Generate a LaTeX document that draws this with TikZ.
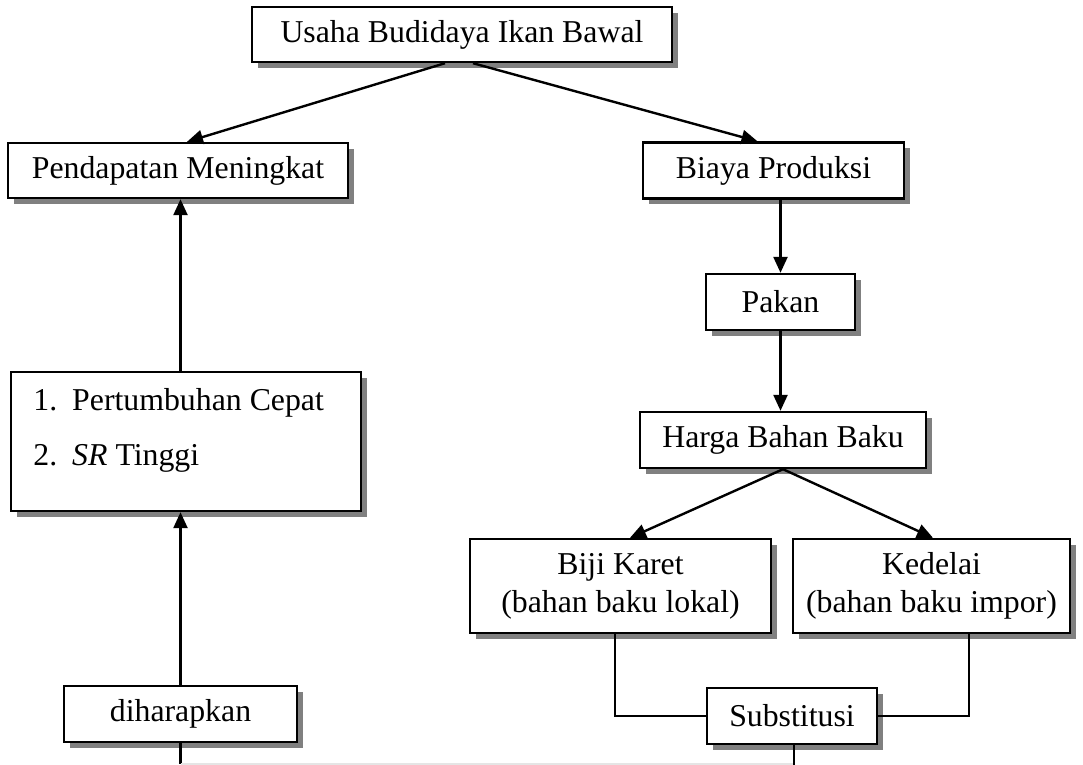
\documentclass[tikz,border=0pt]{standalone}
\usepackage{fontspec}
\setmainfont{Liberation Serif}
\usetikzlibrary{arrows.meta,shadows,calc}
\begin{document}
\begin{tikzpicture}[x=0.5pt, y=-0.5pt,
  bx/.style={draw=black, line width=1.2pt, fill=white, align=center,
             minimum height=28pt, inner sep=0pt,
             font=\fontsize{15.9}{19}\selectfont,
             drop shadow={shadow xshift=3pt, shadow yshift=-3pt,
                          fill=black!50, opacity=1}},
  txt/.style={font=\fontsize{15.9}{19}\selectfont, align=left, inner sep=0pt},
  arr/.style={-{Triangle[length=8pt,width=7pt]}, line width=1.2pt},
  ln/.style={line width=1.2pt},
  faint/.style={line width=0.8pt, draw=black!10}
]
  \useasboundingbox (0,0) rectangle (1083,765);

  % Top box and the two branches
  \node[bx, minimum width=210pt, minimum height=27.5pt] (usaha) at (462,34.5)
    {Usaha Budidaya Ikan Bawal};
  \node[bx, minimum width=170pt, minimum height=27.5pt] (pendapatan) at (178,170.5)
    {Pendapatan Meningkat};
  \node[bx, minimum width=130.5pt] (biaya) at (773.5,170.5) {Biaya Produksi};

  % Right column
  \node[bx, minimum width=74.5pt] (pakan) at (780.5,302) {Pakan};
  \node[bx, minimum width=143pt] (harga) at (783,440) {Harga Bahan Baku};
  \node[bx, minimum width=150.5pt, minimum height=47pt] (biji) at (620.5,586)
    {Biji Karet\\(bahan baku lokal)};
  \node[bx, minimum width=138.5pt, minimum height=47pt] (kedelai) at (931.5,586)
    {Kedelai\\(bahan baku impor)};
  \node[bx, minimum width=85pt] (substitusi) at (792,716) {Substitusi};

  % Left column
  \node[bx, minimum width=175pt, minimum height=69.5pt] (daftar) at (186,441.5) {};
  \node[txt, anchor=west] (daftarisi) at (33,430.5)
    {\begin{tabular}{@{}l@{\hspace{7.5pt}}l@{}}
       1. & Pertumbuhan Cepat\\[8.5pt]
       2. & \textit{SR} Tinggi
     \end{tabular}};
  \node[bx, minimum width=116.5pt] (harap) at (180.5,714) {diharapkan};

  % Arrows
  \draw[arr] ([xshift=-8.5pt]usaha.south) -- ([xshift=4.5pt]pendapatan.north);
  \draw[arr] ([xshift=5.5pt]usaha.south) -- ([xshift=-8pt]biaya.north);
  \draw[arr] (biaya.south -| pakan.north) -- (pakan.north);
  \draw[arr] (pakan.south) -- (pakan.south |- harga.north);
  \draw[arr] (harga.south) -- ([xshift=4.75pt]biji.north);
  \draw[arr] (harga.south) -- ([xshift=0.75pt]kedelai.north);
  \draw[arr] (harap.north) -- (harap.north |- daftar.south);
  \draw[arr] (harap.north |- daftar.north) -- (harap.north |- pendapatan.south);

  % Substitution links
  \draw[ln] ([xshift=-2.75pt]biji.south) |- (substitusi.west);
  \draw[ln] ([xshift=18.75pt]kedelai.south) |- (substitusi.east);
  \coordinate (dasar) at (180.5,764);
  \draw[ln] (harap.south) -- (harap.south |- dasar);
  \draw[faint] (harap.south |- dasar) -- ([xshift=1pt]substitusi.south |- dasar);
  \draw[ln] ([xshift=1pt]substitusi.south) -- ++(0,24);
\end{tikzpicture}
\end{document}
